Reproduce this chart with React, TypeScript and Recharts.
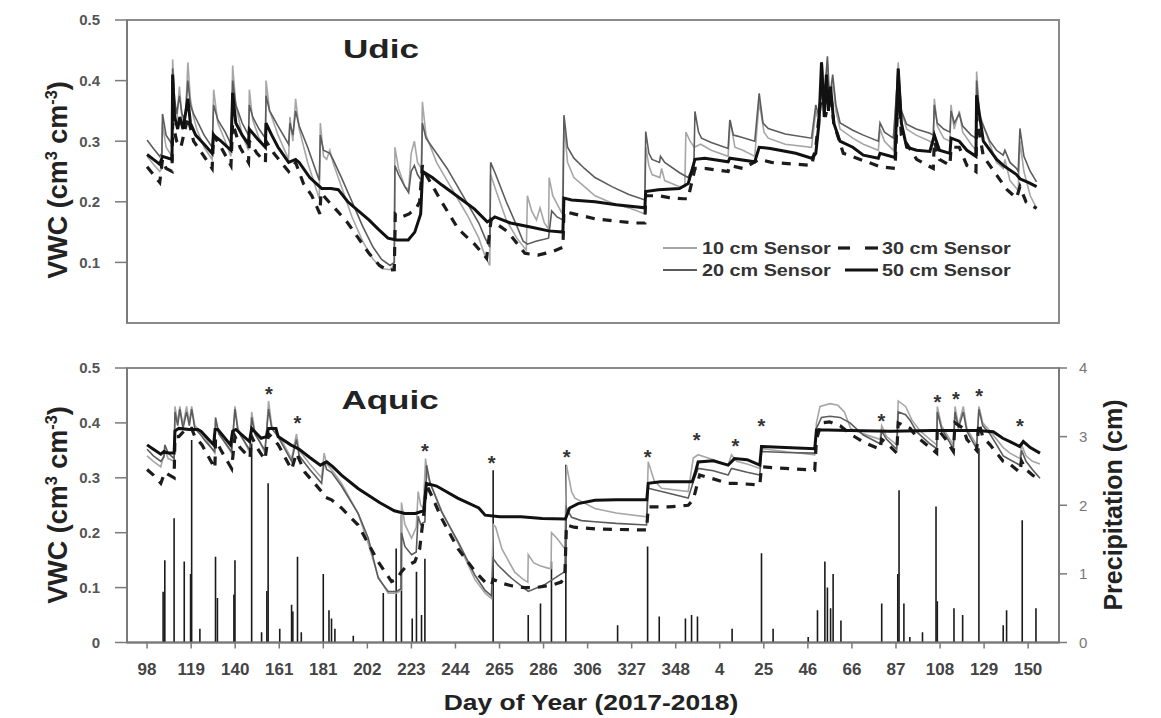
import React from 'react';
import { ComposedChart, Line, Bar, Scatter, XAxis, YAxis, ReferenceArea } from 'recharts';

// ---------- tick labels (Day of Year, 2017-2018) ----------
const TICK_LABELS = ['98','119','140','161','181','202','223','244','265','286','306','327','348','4','25','46','66','87','108','129','150'];
const X_START = 98;   // DOY 98 of 2017
const X_END = 515;    // DOY 150 of 2018 (continuous day count)
const TICK_POS = TICK_LABELS.map((_, i) => X_START + (i * (X_END - X_START)) / (TICK_LABELS.length - 1));
const X_DOMAIN: [number, number] = [88.5, 529.6];

// ---------- Udic (top panel) : [day, VWC] ----------
const UDIC_10: [number, number][] = [
  [98,0.275],[101,0.262],[104,0.25],[105,0.255],[105.3,0.33],[107,0.29],[109.8,0.275],[110.1,0.435],[111,0.37],[112,0.33],[113.3,0.39],[114.5,0.34],[116,0.325],[117.3,0.43],[118.5,0.37],[120,0.34],[121.5,0.32],[125,0.29],[128.8,0.27],[129.5,0.385],[131.5,0.33],[135,0.3],[137.7,0.275],[138.5,0.425],[140,0.36],[143,0.31],[146,0.285],[146.4,0.385],[148,0.335],[151,0.305],[154,0.29],[154.3,0.40],[156,0.35],[160,0.31],[165,0.27],[165.6,0.34],[167,0.3],[168.3,0.37],[170,0.32],[174,0.265],[179.5,0.205],[180,0.33],[181.5,0.275],[183,0.27],[184.5,0.285],[186,0.265],[190,0.225],[195,0.175],[200,0.135],[205,0.105],[209,0.09],[213,0.088],[215,0.095],[215.3,0.29],[217,0.255],[220,0.225],[221.8,0.22],[223,0.28],[224.5,0.3],[226,0.265],[227.8,0.255],[228.3,0.365],[230,0.31],[235,0.265],[240,0.235],[245,0.205],[250,0.175],[255,0.14],[258,0.11],[260.2,0.095],[260.6,0.245],[263,0.22],[268,0.17],[273,0.14],[277.5,0.12],[278,0.21],[280,0.185],[282.3,0.17],[284,0.19],[286,0.165],[288,0.155],[288.3,0.24],[290,0.21],[294.5,0.18],[295.3,0.33],[297,0.265],[300,0.24],[305,0.225],[310,0.21],[318,0.198],[326,0.19],[333.6,0.18],[334,0.29],[335.5,0.26],[337,0.245],[340.7,0.24],[341.5,0.255],[343,0.235],[350,0.225],[352.5,0.225],[353,0.315],[355,0.3],[357,0.29],[360,0.295],[365,0.285],[373,0.275],[374,0.335],[376.2,0.29],[380,0.285],[385.6,0.275],[387.7,0.365],[390,0.315],[392,0.305],[400,0.295],[412.5,0.29],[414.5,0.35],[416,0.33],[417.5,0.41],[418.5,0.35],[420,0.43],[421,0.36],[422.5,0.40],[424,0.35],[426,0.32],[432,0.305],[437,0.295],[444.1,0.285],[444.9,0.32],[447,0.3],[451.2,0.285],[453.5,0.43],[455,0.35],[457.5,0.32],[462,0.31],[468.5,0.3],[470.1,0.295],[470.6,0.37],[472,0.325],[475,0.305],[478,0.3],[478.5,0.36],[480,0.32],[482.4,0.35],[484,0.315],[488,0.295],[490.3,0.285],[490.6,0.415],[492,0.345],[496.9,0.295],[500,0.265],[503.2,0.255],[504,0.27],[506.4,0.235],[509.5,0.222],[510.3,0.218],[511.1,0.30],[513,0.25],[516,0.21],[519,0.189]
];
const UDIC_20: [number, number][] = [
  [98,0.302],[101,0.288],[104,0.275],[105,0.28],[105.3,0.345],[107,0.31],[109.8,0.295],[110.1,0.42],[111,0.37],[112,0.345],[113.3,0.375],[114.5,0.345],[116,0.335],[117.3,0.40],[118.5,0.36],[120,0.345],[121.5,0.335],[125,0.31],[128.8,0.29],[129.5,0.36],[131.5,0.335],[135,0.315],[137.7,0.295],[138.5,0.40],[140,0.36],[143,0.33],[146,0.31],[146.4,0.36],[148,0.34],[151,0.32],[154,0.305],[154.3,0.375],[156,0.35],[160,0.325],[165,0.295],[165.6,0.33],[167,0.31],[168.3,0.35],[170,0.325],[174,0.29],[179.5,0.235],[180,0.31],[181.5,0.285],[184.5,0.28],[186,0.27],[190,0.24],[195,0.2],[200,0.16],[205,0.125],[209,0.105],[213,0.095],[215,0.1],[215.3,0.26],[217,0.245],[220,0.225],[221.8,0.215],[223,0.25],[224.5,0.26],[226,0.245],[227.8,0.235],[228.3,0.33],[230,0.305],[235,0.28],[240,0.255],[245,0.225],[250,0.195],[255,0.165],[258,0.14],[260.2,0.125],[260.6,0.265],[263,0.245],[268,0.2],[273,0.16],[276,0.135],[278,0.13],[282,0.135],[288,0.14],[289.5,0.185],[292,0.175],[294.8,0.17],[295.3,0.343],[297,0.29],[300,0.272],[305,0.255],[310,0.24],[318,0.225],[326,0.212],[333.6,0.203],[334,0.316],[335.5,0.28],[337,0.27],[340.5,0.265],[341,0.275],[343,0.265],[350,0.248],[354,0.24],[356.8,0.26],[357.3,0.349],[359,0.315],[360.4,0.305],[365,0.298],[373,0.288],[373.8,0.335],[375.5,0.31],[377.8,0.308],[385.6,0.3],[387.7,0.379],[389.5,0.33],[392,0.321],[400,0.312],[412.5,0.305],[414.5,0.36],[416,0.34],[417.5,0.43],[418.5,0.37],[420,0.44],[421,0.37],[422.5,0.41],[424,0.36],[426,0.33],[432,0.318],[437,0.31],[444.1,0.3],[444.9,0.33],[447,0.315],[451.2,0.305],[453.5,0.42],[455,0.35],[457.5,0.328],[462,0.32],[468.5,0.313],[470.1,0.31],[470.6,0.36],[472,0.33],[475,0.32],[478,0.315],[478.5,0.35],[480,0.33],[482.4,0.345],[484,0.325],[488,0.31],[490.3,0.305],[490.6,0.40],[492,0.34],[496.9,0.3],[500,0.285],[503.2,0.277],[504,0.285],[506.4,0.265],[509.5,0.255],[510.3,0.25],[511.1,0.321],[513,0.275],[516,0.25],[519,0.233]
];
const UDIC_30: [number, number][] = [
  [98,0.258],[101,0.245],[104,0.232],[105.3,0.27],[107,0.255],[109.8,0.25],[110.1,0.33],[112,0.3],[114,0.29],[117.3,0.34],[120,0.3],[124,0.28],[128.8,0.255],[129.5,0.31],[133,0.29],[137.7,0.26],[138.5,0.33],[142,0.29],[146,0.265],[146.4,0.3],[150,0.28],[154,0.265],[154.3,0.3],[158,0.28],[165,0.25],[168.3,0.265],[172,0.23],[176,0.21],[179.8,0.18],[180.3,0.215],[184,0.2],[188,0.185],[193,0.165],[198,0.14],[203,0.115],[208,0.095],[212,0.087],[215,0.088],[215.5,0.18],[218.4,0.175],[222,0.18],[225.5,0.19],[227,0.20],[228.3,0.26],[230,0.245],[237.4,0.2],[245.3,0.155],[253,0.13],[258.7,0.107],[260.8,0.17],[268.9,0.15],[276.8,0.115],[283,0.112],[290,0.118],[294.8,0.125],[295.3,0.184],[300,0.18],[310,0.172],[320,0.168],[328.9,0.165],[333.6,0.165],[334,0.21],[340,0.21],[345,0.207],[352,0.205],[354,0.205],[357.3,0.255],[362,0.255],[373,0.25],[373.8,0.26],[380,0.255],[387.7,0.27],[393.5,0.265],[405,0.262],[412.5,0.26],[414.5,0.29],[417.5,0.39],[419,0.34],[421.5,0.38],[423,0.33],[427.5,0.28],[437,0.268],[444.9,0.258],[452,0.255],[453.5,0.38],[455,0.31],[462.2,0.27],[470.1,0.255],[470.6,0.3],[473,0.27],[478,0.26],[478.5,0.29],[482.4,0.29],[486,0.26],[490.3,0.25],[490.6,0.34],[493.8,0.275],[500.1,0.244],[505,0.22],[509.5,0.206],[511.1,0.225],[514,0.2],[519,0.189]
];
const UDIC_50: [number, number][] = [
  [98,0.278],[101,0.27],[104,0.262],[105.3,0.275],[109.8,0.27],[110.1,0.41],[111,0.34],[112.5,0.32],[113.5,0.34],[115,0.32],[117.3,0.37],[118.5,0.33],[121,0.31],[125,0.295],[128.8,0.28],[129.5,0.31],[133,0.3],[137.7,0.285],[138.5,0.38],[140,0.33],[143,0.31],[146,0.295],[146.4,0.32],[150,0.305],[154,0.29],[154.3,0.33],[157,0.31],[160,0.29],[165,0.265],[168.3,0.27],[170,0.265],[175,0.24],[180.6,0.222],[185,0.222],[188.5,0.22],[193,0.2],[198,0.185],[203,0.17],[207.4,0.155],[212,0.14],[216,0.137],[221.6,0.137],[224.7,0.15],[227.5,0.18],[228.4,0.25],[233,0.24],[237.4,0.228],[245.3,0.208],[253,0.188],[259,0.167],[260.6,0.17],[262.6,0.175],[270,0.165],[280,0.158],[288,0.152],[294.8,0.15],[295.3,0.206],[298.9,0.203],[310,0.2],[320,0.195],[333.6,0.19],[334,0.217],[340,0.22],[350,0.222],[354.1,0.23],[357.3,0.27],[362,0.272],[373,0.266],[373.8,0.272],[385.6,0.266],[387.7,0.29],[393,0.288],[405,0.28],[412.5,0.272],[414.5,0.28],[416,0.33],[417.2,0.43],[418.5,0.34],[419.5,0.41],[420.5,0.35],[421.5,0.39],[423,0.33],[425.9,0.30],[432,0.29],[437,0.277],[444.1,0.272],[444.9,0.28],[452,0.273],[453.5,0.42],[455,0.33],[457.5,0.29],[462.2,0.285],[468.5,0.283],[470.6,0.31],[473,0.285],[478,0.28],[478.5,0.305],[482.4,0.3],[486,0.285],[490.3,0.275],[490.6,0.376],[493.8,0.3],[500.1,0.27],[503.2,0.26],[509.5,0.245],[511.1,0.238],[515,0.232],[519,0.225]
];

// ---------- Aquic (bottom panel) : [day, VWC] ----------
const AQUIC_10: [number, number][] = [
  [98,0.34],[101,0.33],[104.5,0.32],[106.4,0.35],[108,0.335],[110.8,0.33],[111.2,0.43],[112.5,0.40],[113.5,0.43],[115,0.395],[116.7,0.43],[118,0.40],[119.1,0.43],[120.6,0.395],[123,0.385],[126,0.37],[130,0.345],[130.4,0.405],[132,0.38],[138,0.345],[139.6,0.43],[141,0.39],[146.7,0.345],[147.5,0.42],[149,0.385],[153.8,0.345],[155.5,0.44],[157,0.395],[160,0.38],[166.4,0.335],[168.7,0.38],[170,0.35],[175,0.325],[180.6,0.3],[181.8,0.345],[183,0.325],[185.3,0.315],[190,0.29],[197.9,0.235],[202.7,0.18],[207.4,0.12],[212.1,0.09],[216,0.09],[218.2,0.095],[218.4,0.255],[220,0.215],[223.2,0.19],[225.4,0.21],[226.3,0.275],[227.5,0.25],[228.7,0.245],[229.8,0.335],[231,0.30],[237.4,0.24],[245.3,0.18],[253.1,0.115],[258,0.09],[261,0.08],[261.8,0.215],[263,0.21],[266,0.17],[272,0.128],[276,0.115],[278.2,0.11],[278.4,0.16],[281,0.145],[284,0.14],[288,0.135],[289.2,0.135],[289.4,0.20],[292,0.19],[295.7,0.171],[296.5,0.323],[298.9,0.275],[300.5,0.263],[309.9,0.244],[320,0.236],[334.4,0.229],[335.2,0.329],[338,0.295],[341.5,0.281],[354.1,0.275],[356.5,0.336],[358.8,0.342],[366,0.333],[373,0.323],[374.6,0.342],[377,0.33],[382,0.325],[388,0.317],[388.8,0.353],[400,0.348],[414,0.342],[414.8,0.40],[416.5,0.43],[421.2,0.435],[425,0.432],[428,0.42],[431,0.39],[437,0.38],[444.9,0.37],[445.7,0.395],[448,0.375],[452.8,0.36],[453.5,0.44],[457,0.43],[460,0.405],[464,0.385],[468.5,0.37],[471.7,0.36],[472,0.43],[474,0.395],[479.6,0.36],[480.4,0.43],[482,0.395],[484.3,0.43],[486,0.39],[490.6,0.36],[491.7,0.43],[493.5,0.4],[496.9,0.385],[500.1,0.37],[503.2,0.355],[506.4,0.345],[511.1,0.335],[511.9,0.36],[514,0.34],[517,0.33],[520.6,0.325]
];
const AQUIC_20: [number, number][] = [
  [98,0.352],[101,0.34],[104.5,0.33],[106,0.338],[106.4,0.36],[108,0.345],[110.8,0.335],[111.2,0.42],[112.5,0.395],[113.5,0.425],[115,0.39],[116.7,0.42],[118,0.395],[119.1,0.425],[120.6,0.39],[123,0.38],[126,0.365],[130,0.348],[130.4,0.41],[132,0.38],[138,0.348],[139.6,0.425],[141,0.385],[146.7,0.35],[147.5,0.41],[149,0.38],[153.8,0.35],[155.5,0.425],[157,0.39],[160,0.375],[166.4,0.33],[168.7,0.37],[170,0.34],[175,0.315],[180.6,0.29],[181.8,0.33],[183,0.315],[185.3,0.31],[190,0.285],[197.9,0.235],[202.7,0.19],[207.4,0.117],[212.1,0.093],[216,0.093],[218.2,0.098],[218.4,0.2],[220,0.175],[223.2,0.16],[225.4,0.165],[226.3,0.23],[227.5,0.215],[229.5,0.22],[230.3,0.323],[232,0.29],[237.4,0.238],[245.3,0.183],[253.1,0.123],[258,0.095],[261,0.085],[261.8,0.153],[264,0.141],[270.5,0.117],[278.4,0.093],[286,0.105],[295.7,0.129],[296.5,0.245],[298.9,0.228],[303.6,0.222],[309.9,0.22],[320,0.217],[334.4,0.214],[335.2,0.281],[341.5,0.275],[354.1,0.263],[356.5,0.293],[358.8,0.317],[366,0.313],[373,0.305],[374.6,0.317],[382,0.31],[388,0.305],[388.8,0.348],[400,0.346],[414,0.345],[414.8,0.39],[417.2,0.41],[421.2,0.412],[426,0.41],[430.7,0.40],[437,0.378],[444.9,0.362],[445.7,0.385],[448,0.37],[452.8,0.352],[453.5,0.42],[457,0.415],[459.1,0.405],[462.2,0.384],[468.5,0.362],[471.7,0.353],[472,0.42],[474,0.39],[479.6,0.353],[480.4,0.42],[482,0.39],[484.3,0.42],[486,0.385],[490.6,0.353],[491.7,0.425],[493.5,0.395],[496.9,0.38],[500.1,0.36],[503.2,0.34],[506.4,0.333],[511.1,0.323],[511.9,0.35],[514,0.33],[517,0.315],[520.6,0.299]
];
const AQUIC_30: [number, number][] = [
  [98,0.315],[101,0.305],[104.5,0.29],[106.4,0.31],[110.8,0.3],[111.2,0.375],[113,0.375],[116.7,0.39],[119.1,0.39],[120.6,0.375],[124,0.36],[130.1,0.317],[130.4,0.37],[133,0.35],[138,0.317],[139.6,0.375],[142,0.355],[146.7,0.336],[147.5,0.375],[150,0.355],[153.8,0.333],[155.5,0.38],[158,0.37],[160.1,0.36],[166.4,0.315],[168.7,0.345],[172.7,0.31],[180.6,0.275],[182.2,0.265],[185.3,0.26],[190,0.245],[197.9,0.214],[202.7,0.18],[207.4,0.147],[213.7,0.111],[216.1,0.115],[218.4,0.129],[221,0.14],[224.7,0.147],[227,0.17],[228.7,0.226],[230.3,0.287],[233,0.265],[237.4,0.226],[245.3,0.17],[253.1,0.13],[258,0.11],[261,0.105],[261.8,0.115],[265.9,0.108],[271,0.103],[276.8,0.1],[282,0.1],[290,0.105],[294,0.11],[295.7,0.12],[296.5,0.214],[300,0.21],[310,0.207],[320,0.206],[334.4,0.205],[335.2,0.247],[345,0.247],[354.1,0.25],[356.5,0.26],[359.5,0.305],[366,0.298],[373,0.29],[376,0.29],[388,0.287],[388.8,0.32],[400,0.317],[414,0.314],[414.8,0.37],[417.2,0.40],[421,0.402],[426,0.395],[430.7,0.38],[437,0.365],[444.9,0.352],[445.7,0.37],[449,0.36],[452.8,0.345],[453.5,0.40],[459.1,0.39],[462.2,0.375],[468.5,0.355],[471.7,0.345],[472,0.39],[476,0.37],[479.6,0.348],[480.4,0.40],[484.3,0.39],[486,0.37],[490.6,0.35],[491.7,0.40],[493.5,0.375],[497,0.36],[500.1,0.345],[503.2,0.33],[506.4,0.325],[511.1,0.31],[511.9,0.33],[514,0.315],[517,0.305],[520.6,0.295]
];
const AQUIC_50: [number, number][] = [
  [98,0.36],[101,0.352],[104.5,0.343],[106,0.348],[108,0.345],[110.8,0.345],[111.2,0.385],[113,0.39],[118,0.388],[122,0.388],[123.5,0.385],[129.5,0.36],[130.2,0.388],[131.5,0.388],[137.5,0.36],[138.5,0.385],[140,0.388],[146.5,0.366],[147.5,0.39],[152,0.372],[154.5,0.375],[155.5,0.39],[159,0.39],[160,0.375],[166,0.36],[170,0.352],[175,0.337],[180,0.323],[183,0.329],[186,0.32],[190,0.305],[198,0.28],[208,0.255],[215,0.24],[220,0.235],[225,0.235],[229,0.24],[230.2,0.29],[235,0.285],[245,0.263],[255,0.245],[258,0.232],[265,0.229],[275,0.229],[285,0.226],[296,0.225],[296.5,0.23],[298,0.245],[302,0.253],[310,0.259],[320,0.26],[334.5,0.26],[335.2,0.29],[341,0.293],[350,0.293],[356,0.293],[357.5,0.31],[358.8,0.329],[366,0.331],[373,0.323],[376,0.335],[382,0.333],[388,0.323],[388.8,0.357],[400,0.355],[414,0.353],[414.8,0.387],[420,0.387],[430,0.386],[450,0.385],[470,0.386],[490.6,0.386],[498.5,0.384],[503,0.372],[506.4,0.366],[511,0.357],[512.7,0.366],[516,0.355],[520.6,0.345]
];

// ---------- precipitation (cm) ----------
const PRECIP_DAY = [105.6,106.4,110.8,115.6,118.6,119.1,123,130.4,131.3,139.1,139.6,147.5,152.2,154.7,155.3,160.8,166.4,167,169.2,171,181.4,184.1,185.3,186.9,195.6,209.8,215.9,218.4,223.5,225.5,227.9,229.5,261.8,278.4,284.2,289.4,296.2,320.7,334.9,340.4,352.8,355.7,358.5,374.9,388.8,394.3,410.9,415.3,418.8,420,421.5,422.7,426.4,445.7,453.3,453.9,456.2,459,465,471.4,472,479.9,484,491.7,503.2,504.8,512.2,518.7];
const PRECIP_CM =  [0.74,1.2,1.81,1.18,1.0,2.95,0.2,1.25,0.65,0.7,1.2,2.9,0.15,0.75,2.32,0.2,0.55,0.45,1.25,0.15,1.0,0.47,0.35,0.2,0.1,0.72,1.37,1.86,0.35,1.03,0.4,1.22,2.51,0.4,0.57,1.18,2.59,0.25,1.4,0.38,0.35,0.4,0.38,0.2,1.3,0.2,0.08,0.47,1.18,0.8,0.5,1.0,0.32,0.57,1.0,2.22,0.57,0.08,0.15,1.98,0.6,0.5,0.4,2.83,0.25,0.47,1.78,0.5];

// ---------- significance asterisks ----------
const STAR_DAY = [155.7,169.1,229.5,261.1,296.6,334.9,358.1,376.5,388.8,445.6,472,480.8,491.8,511.1];
const STAR_VWC = [0.46,0.408,0.357,0.335,0.345,0.345,0.377,0.365,0.401,0.411,0.445,0.451,0.457,0.402];

const toPts = (a: [number, number][]) => a.map(([d, v]) => ({ d, v }));
const precipData = PRECIP_DAY.map((d, i) => ({ d, p: PRECIP_CM[i] }));
const starData = STAR_DAY.map((d, i) => ({ d, v: STAR_VWC[i] }));

const STYLE10 = { stroke: '#a6a6a6', strokeWidth: 1.6 };
const STYLE20 = { stroke: '#5c5c5c', strokeWidth: 1.6 };
const STYLE30 = { stroke: '#1c1c1c', strokeWidth: 3.2, strokeDasharray: '9 8' };
const STYLE50 = { stroke: '#111111', strokeWidth: 3 };

const FONT = '"Liberation Sans", Arial, Helvetica, sans-serif';
const AXIS_COLOR = '#7a7a7a';
const leftTick = { fill: '#555', fontSize: 15, fontWeight: 700, fontFamily: FONT };
const fmtV = (v: number) => (v === 0 ? '0' : v.toFixed(1));
const fmtX = (v: number) => {
  const i = TICK_POS.findIndex((t) => Math.abs(t - v) < 1e-6);
  return i >= 0 ? TICK_LABELS[i] : '';
};

const Star = (props: any) => {
  const { cx, cy } = props;
  return (
    <text x={cx} y={cy + 11} textAnchor="middle" fontSize={20} fontWeight={700} fill="#333" fontFamily={FONT}>*</text>
  );
};

const PrecipBar = (props: any) => {
  const { x, y, width, height } = props;
  if (!height || height <= 0) return null;
  const cx = x + width / 2;
  return <line x1={cx} x2={cx} y1={y} y2={y + height} stroke="#1a1a1a" strokeWidth={1.6} />;
};

const seriesLines = (s10: any, s20: any, s30: any, s50: any) => [
  <Line key="l10" data={toPts(s10)} dataKey="v" yAxisId="left" type="linear" dot={false} activeDot={false} isAnimationActive={false} {...STYLE10} />,
  <Line key="l20" data={toPts(s20)} dataKey="v" yAxisId="left" type="linear" dot={false} activeDot={false} isAnimationActive={false} {...STYLE20} />,
  <Line key="l30" data={toPts(s30)} dataKey="v" yAxisId="left" type="linear" dot={false} activeDot={false} isAnimationActive={false} {...STYLE30} />,
  <Line key="l50" data={toPts(s50)} dataKey="v" yAxisId="left" type="linear" dot={false} activeDot={false} isAnimationActive={false} {...STYLE50} />,
];

const txt = (extra: React.CSSProperties): React.CSSProperties => ({
  position: 'absolute', whiteSpace: 'nowrap', fontFamily: FONT, fontWeight: 700, color: '#222', lineHeight: 1, ...extra,
});

const VwcLabel = ({ cx, cy }: { cx: number; cy: number }) => (
  <div style={txt({ left: cx, top: cy, fontSize: 27, transform: 'translate(-50%,-50%) rotate(-90deg)' })}>
    VWC (cm<sup style={{ fontSize: '0.6em' }}>3</sup> cm<sup style={{ fontSize: '0.6em' }}>-3</sup>)
  </div>
);

const LegendRow = ({ y, label1, label2, s1, s2 }: any) => (
  <>
    <svg style={{ position: 'absolute', left: 660, top: y - 5 }} width={40} height={10}>
      <line x1={3} y1={5} x2={37} y2={5} stroke={s1.stroke} strokeWidth={2} />
    </svg>
    <div style={txt({ left: 702, top: y - 8, fontSize: 16.5, color: '#333', transform: 'scaleX(1.2)', transformOrigin: 'left center' })}>{label1}</div>
    <svg style={{ position: 'absolute', left: 835, top: y - 5 }} width={46} height={10}>
      {s2 === 'dash' ? (
        <>
          <line x1={3} y1={5} x2={15} y2={5} stroke="#1c1c1c" strokeWidth={3.2} />
          <line x1={30} y1={5} x2={43} y2={5} stroke="#1c1c1c" strokeWidth={3.2} />
        </>
      ) : (
        <line x1={10} y1={5} x2={43} y2={5} stroke="#111" strokeWidth={3} />
      )}
    </svg>
    <div style={txt({ left: 882, top: y - 8, fontSize: 16.5, color: '#333', transform: 'scaleX(1.2)', transformOrigin: 'left center' })}>{label2}</div>
  </>
);

export default function App() {
  return (
    <div style={{ position: 'absolute', left: 0, top: 0, width: 1161, height: 718, background: '#fff', overflow: 'hidden' }}>
      {/* ---------- Udic panel ---------- */}
      <div style={{ position: 'absolute', left: 0, top: 0 }}>
        <ComposedChart width={1161} height={340} margin={{ top: 20, right: 102, bottom: 17, left: 0 }}>
          <XAxis type="number" dataKey="d" domain={X_DOMAIN} allowDataOverflow hide />
          <YAxis yAxisId="left" dataKey="v" type="number" width={127} domain={[0, 0.5]} ticks={[0.1, 0.2, 0.3, 0.4, 0.5]}
            tickFormatter={fmtV} tick={leftTick} tickSize={12} tickMargin={15}
            axisLine={{ stroke: AXIS_COLOR, strokeWidth: 2 }} tickLine={{ stroke: AXIS_COLOR, strokeWidth: 1.5 }} allowDataOverflow />
          <ReferenceArea yAxisId="left" x1={X_DOMAIN[0]} x2={X_DOMAIN[1]} y1={0} y2={0.5} fill="none" fillOpacity={0} stroke="#8a8a8a" strokeWidth={2} />
          {seriesLines(UDIC_10, UDIC_20, UDIC_30, UDIC_50)}
        </ComposedChart>
      </div>

      {/* ---------- Aquic panel ---------- */}
      <div style={{ position: 'absolute', left: 0, top: 340 }}>
        <ComposedChart width={1161} height={378} data={precipData} margin={{ top: 28, right: 0, bottom: 35.5, left: 0 }}>
          <XAxis type="number" dataKey="d" domain={X_DOMAIN} allowDataOverflow ticks={TICK_POS} interval={0}
            tickFormatter={fmtX} height={40} tickSize={6} tickMargin={14}
            tick={{ fill: '#444', fontSize: 17, fontWeight: 700, fontFamily: FONT }}
            axisLine={{ stroke: AXIS_COLOR, strokeWidth: 2 }} tickLine={{ stroke: AXIS_COLOR, strokeWidth: 1.5 }} />
          <YAxis yAxisId="left" dataKey="v" type="number" width={127} domain={[0, 0.5]} ticks={[0, 0.1, 0.2, 0.3, 0.4, 0.5]}
            tickFormatter={fmtV} tick={leftTick} tickSize={12} tickMargin={15}
            axisLine={{ stroke: AXIS_COLOR, strokeWidth: 2 }} tickLine={{ stroke: AXIS_COLOR, strokeWidth: 1.5 }} allowDataOverflow />
          <YAxis yAxisId="right" orientation="right" dataKey="p" type="number" width={102} domain={[0, 4]} ticks={[0, 1, 2, 3, 4]}
            tick={{ fill: '#777', fontSize: 15, fontFamily: FONT }} tickSize={8} tickMargin={12}
            axisLine={{ stroke: AXIS_COLOR, strokeWidth: 2 }} tickLine={{ stroke: AXIS_COLOR, strokeWidth: 1.5 }} allowDataOverflow />
          <ReferenceArea yAxisId="left" x1={X_DOMAIN[0]} x2={X_DOMAIN[1]} y1={0} y2={0.5} fill="none" fillOpacity={0} stroke="#8a8a8a" strokeWidth={2} />
          <Bar yAxisId="right" dataKey="p" barSize={2} fill="#1a1a1a" shape={PrecipBar} isAnimationActive={false} />
          {seriesLines(AQUIC_10, AQUIC_20, AQUIC_30, AQUIC_50)}
          <Scatter yAxisId="left" data={starData} dataKey="v" shape={Star} isAnimationActive={false} />
        </ComposedChart>
      </div>

      {/* ---------- text overlays ---------- */}
      <div style={txt({ left: 381, top: 49, fontSize: 26, transform: 'translate(-50%,-50%) scaleX(1.35)' })}>Udic</div>
      <div style={txt({ left: 390, top: 400, fontSize: 25, transform: 'translate(-50%,-50%) scaleX(1.4)' })}>Aquic</div>
      <VwcLabel cx={57} cy={180} />
      <VwcLabel cx={57} cy={505} />
      <div style={txt({ left: 1113, top: 505, fontSize: 25, transform: 'translate(-50%,-50%) rotate(-90deg)' })}>Precipitation (cm)</div>
      <div style={txt({ left: 591, top: 703, fontSize: 22, transform: 'translate(-50%,-50%) scaleX(1.2)' })}>Day of Year (2017-2018)</div>

      <LegendRow y={248} label1="10 cm Sensor" label2="30 cm Sensor" s1={STYLE10} s2="dash" />
      <LegendRow y={270} label1="20 cm Sensor" label2="50 cm Sensor" s1={STYLE20} s2="solid" />
    </div>
  );
}
